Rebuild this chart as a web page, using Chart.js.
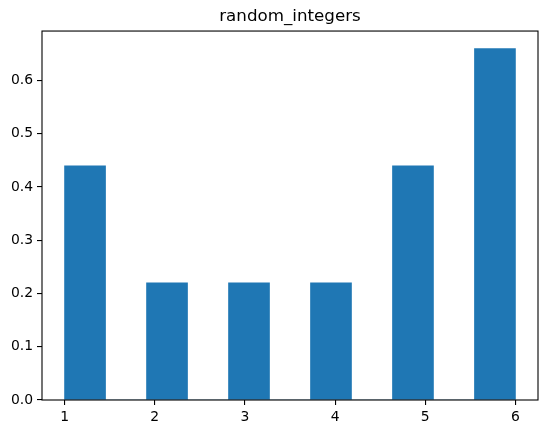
<!DOCTYPE html>
<html>
<head>
<meta charset="utf-8">
<script src="https://cdn.jsdelivr.net/npm/chart.js@4/dist/chart.umd.min.js"></script>
<style>
  html, body { margin: 0; padding: 0; background: #fff; }
  #wrap { width: 547px; height: 433px; }
</style>
</head>
<body>
<div id="wrap"><canvas id="c" width="547" height="433"></canvas></div>
<script>
// Histogram (density) of random_integers: 11 bins between 1 and 6
const titleText = "random_integers";
const binEdges = [1, 1.4545, 1.9091, 2.3636, 2.8182, 3.2727, 3.7273, 4.1818, 4.6364, 5.0909, 5.5455, 6];
const densities = [0.44, 0, 0.22, 0, 0.22, 0, 0.22, 0, 0.44, 0, 0.66];
const xTicks = [1, 2, 3, 4, 5, 6];
const yTicks = [0.0, 0.1, 0.2, 0.3, 0.4, 0.5, 0.6];

const points = densities.map((d, i) => ({ x: (binEdges[i] + binEdges[i + 1]) / 2, y: d }));

const spines = {
  id: 'spines',
  afterDraw(chart) {
    const a = chart.chartArea, ctx = chart.ctx;
    ctx.save();
    ctx.strokeStyle = '#000';
    ctx.lineWidth = 1.1;
    ctx.strokeRect(a.left, a.top, a.right - a.left, a.bottom - a.top);
    ctx.restore();
  }
};

const font = { family: "'DejaVu Sans', sans-serif", size: 13.9 };

new Chart(document.getElementById('c'), {
  type: 'bar',
  data: {
    datasets: [{
      data: points,
      backgroundColor: '#1f77b4',
      borderWidth: 0,
      barPercentage: 1,
      categoryPercentage: 1
    }]
  },
  options: {
    responsive: false,
    animation: false,
    layout: { padding: { left: 0, right: 9, top: 0, bottom: 0 } },
    plugins: {
      legend: { display: false },
      tooltip: { enabled: false },
      title: {
        display: true,
        text: titleText,
        fullSize: false,
        color: '#000',
        font: { family: "'DejaVu Sans', sans-serif", size: 16.7, weight: 'normal', lineHeight: 1.2 },
        padding: { top: 7, bottom: 4 }
      }
    },
    scales: {
      x: {
        type: 'linear',
        offset: false,
        min: 0.75,
        max: 6.25,
        afterBuildTicks: s => { s.ticks = xTicks.map(v => ({ value: v })); },
        afterFit: s => { s.height = 33; },
        grid: { offset: false, drawOnChartArea: false, drawTicks: true, tickLength: 5, color: '#000', lineWidth: 1.1 },
        border: { display: false },
        ticks: { color: '#000', font: font, padding: 4, maxRotation: 0, callback: v => String(v) }
      },
      y: {
        type: 'linear',
        min: 0,
        max: 0.693,
        afterBuildTicks: s => { s.ticks = yTicks.map(v => ({ value: v })); },
        afterFit: s => { s.width = 42; },
        grid: { drawOnChartArea: false, drawTicks: true, tickLength: 5, color: '#000', lineWidth: 1.1 },
        border: { display: false },
        ticks: { color: '#000', font: font, padding: 4, callback: v => Number(v).toFixed(1) }
      }
    }
  },
  plugins: [spines]
});
</script>
</body>
</html>
